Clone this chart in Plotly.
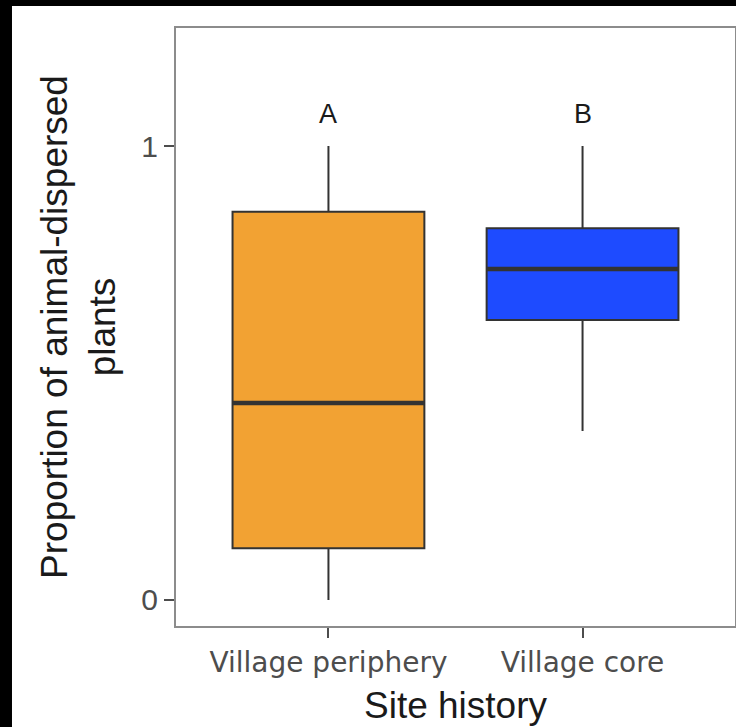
import plotly.graph_objects as go

# Summary statistics per site-history group
categories = ["Village periphery", "Village core"]
lower_whisker = [0.0, 0.372]
q1_values = [0.114, 0.617]
median_values = [0.434, 0.729]
q3_values = [0.855, 0.819]
upper_whisker = [1.0, 1.0]
group_letters = ["A", "B"]
letter_height = [1.07, 1.07]
box_colors = ["#F2A233", "#1E4BFF"]

BOX_W = 0.755
EDGE = "#333333"

fig = go.Figure()

for i, cat in enumerate(categories):
    fig.add_trace(go.Box(
        x=[i],
        q1=[q1_values[i]],
        median=[median_values[i]],
        q3=[q3_values[i]],
        lowerfence=[lower_whisker[i]],
        upperfence=[upper_whisker[i]],
        width=BOX_W,
        whiskerwidth=0,
        fillcolor=box_colors[i],
        line=dict(color=EDGE, width=2),
        name=cat,
        boxpoints=False,
        hoverinfo="skip",
    ))
    # thicker median bar, as in ggplot boxplots
    fig.add_trace(go.Scatter(
        x=[i - BOX_W / 2, i + BOX_W / 2],
        y=[median_values[i], median_values[i]],
        mode="lines",
        line=dict(color=EDGE, width=4.5),
        hoverinfo="skip",
    ))

# significance letters above each group
for i, letter in enumerate(group_letters):
    fig.add_annotation(
        x=i, y=letter_height[i], text=letter, showarrow=False,
        font=dict(family="Liberation Sans", size=27, color="#1a1a1a"),
    )

# white canvas over a black frame on the top and left edges
fig.add_shape(
    type="rect", xref="paper", yref="paper",
    x0=-0.2934, x1=2, y0=-1, y1=1.0368,
    fillcolor="white", line=dict(width=0), layer="below",
)

fig.update_layout(
    width=736, height=727,
    margin=dict(l=176, r=1, t=28, b=101, autoexpand=False),
    paper_bgcolor="black",
    plot_bgcolor="white",
    showlegend=False,
    hovermode=False,
    xaxis=dict(
        range=[-0.6, 1.6], automargin=False,
        tickmode="array", tickvals=list(range(len(categories))), ticktext=categories,
        showgrid=False, zeroline=False,
        showline=True, mirror=True, linecolor="#8c8c8c", linewidth=2,
        ticks="outside", ticklen=10, tickwidth=2, tickcolor="#4d4d4d",
        tickfont=dict(family="DejaVu Sans", size=28, color="#4d4d4d"),
        title=dict(text="Site history", standoff=15,
                   font=dict(family="Liberation Sans", size=37, color="#1a1a1a")),
    ),
    yaxis=dict(
        range=[-0.0573, 1.26], automargin=False,
        tickvals=[0, 1], ticktext=["0", "1"],
        showgrid=False, zeroline=False,
        showline=True, mirror=True, linecolor="#8c8c8c", linewidth=2,
        ticks="outside", ticklen=10, tickwidth=2, tickcolor="#4d4d4d",
        tickfont=dict(family="Liberation Sans", size=30, color="#4d4d4d"),
        title=dict(text="Proportion of animal-dispersed<br>plants", standoff=14,
                   font=dict(family="Liberation Sans", size=37, color="#1a1a1a")),
    ),
)

fig.write_html("out.html")
